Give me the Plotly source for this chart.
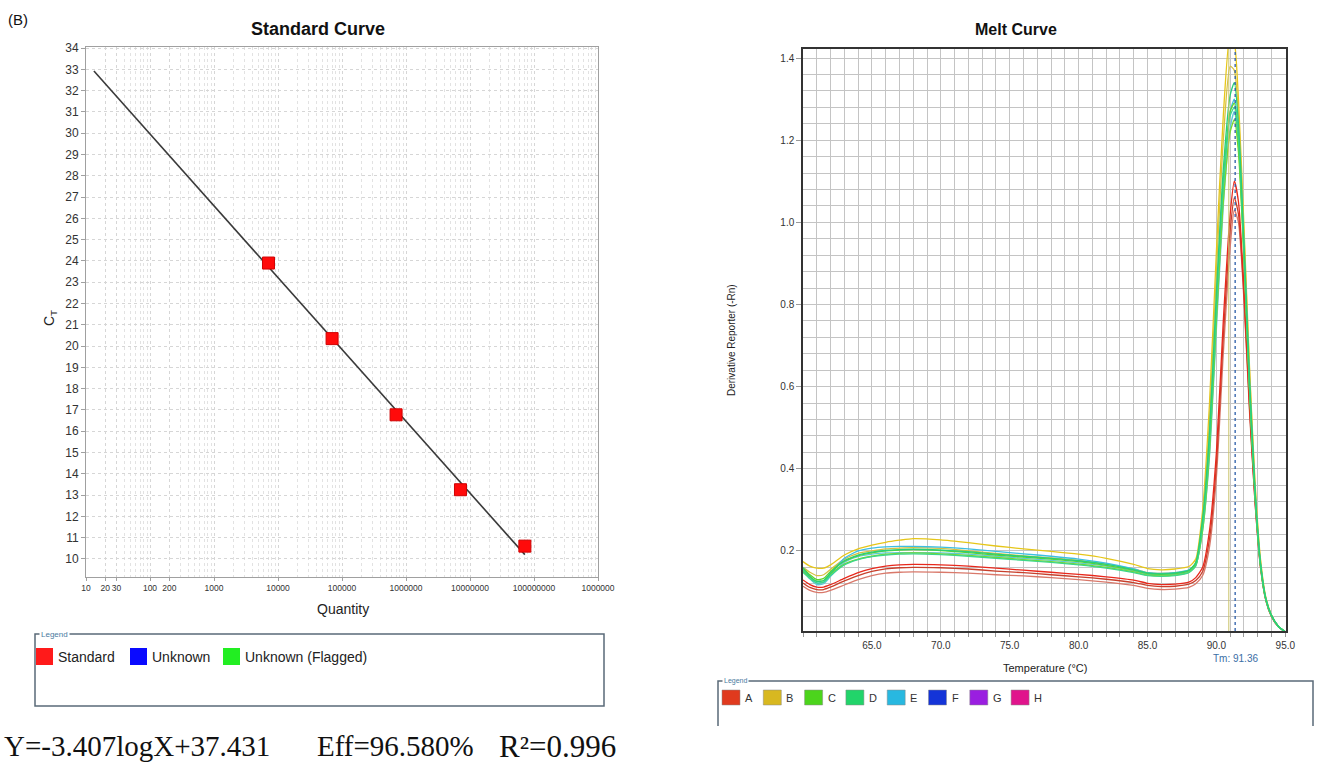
import plotly.graph_objects as go

W, H = 1323, 763

# ---------------- Standard curve data ----------------
std_quantity = [7.1e3, 7.0e4, 7.0e5, 7.1e6, 7.2e7]
std_ct = [23.9, 20.35, 16.77, 13.25, 10.6]
fit_quantity = [13.3, 7.2e7]
fit_ct = [32.92, 10.2]
x_tick_vals = [10, 20, 30, 100, 200, 1e3, 1e4, 1e5, 1e6, 1e7, 1e8, 1e9]
x_tick_text = ["10", "20", "30", "100", "200", "1000", "10000", "100000",
               "1000000", "10000000", "100000000", "1000000"]
std_legend_labels = ["Standard", "Unknown", "Unknown (Flagged)"]
std_legend_colors = ["#ff1a1a", "#0a0aff", "#22ee22"]
equation_parts = ["Y=-3.407logX+37.431", "Eff=96.580%", "R²=0.996"]

# ---------------- Melt curve data ----------------
temp = [60, 60.5, 61, 61.5, 62, 63, 64, 65, 66, 67, 68, 70, 72, 74, 76, 78, 80, 82, 84,
        85, 86, 87, 88, 88.5, 89, 89.5, 90, 90.5, 91, 91.3, 91.6, 92, 92.4, 92.8, 93.2,
        93.6, 94, 94.5, 95]

melt_curves = [
    ("A", "#d9786a", [0.114, 0.104, 0.099, 0.099, 0.104, 0.117, 0.130, 0.140, 0.146, 0.148, 0.149, 0.148, 0.146, 0.142, 0.139, 0.135, 0.130, 0.124, 0.116,
                      0.109, 0.106, 0.107, 0.111, 0.120, 0.140, 0.210, 0.380, 0.680, 0.940, 1.030, 1.000, 0.810, 0.540, 0.320, 0.160,
                      0.078, 0.040, 0.015, 0.003]),
    ("A", "#c8402c", [0.122, 0.111, 0.106, 0.106, 0.112, 0.127, 0.140, 0.150, 0.156, 0.159, 0.160, 0.159, 0.156, 0.151, 0.147, 0.142, 0.137, 0.131, 0.123,
                      0.116, 0.113, 0.114, 0.119, 0.128, 0.150, 0.230, 0.410, 0.720, 0.980, 1.060, 1.020, 0.820, 0.550, 0.320, 0.160,
                      0.078, 0.040, 0.015, 0.003]),
    ("A", "#e8281c", [0.129, 0.118, 0.112, 0.112, 0.118, 0.133, 0.147, 0.157, 0.163, 0.166, 0.167, 0.166, 0.163, 0.158, 0.153, 0.148, 0.143, 0.137, 0.129,
                      0.121, 0.118, 0.119, 0.124, 0.135, 0.160, 0.250, 0.440, 0.760, 1.020, 1.100, 1.050, 0.840, 0.560, 0.330, 0.165,
                      0.080, 0.042, 0.016, 0.003]),
    ("B", "#e6c619", [0.174, 0.163, 0.158, 0.158, 0.166, 0.190, 0.205, 0.214, 0.221, 0.226, 0.230, 0.227, 0.220, 0.212, 0.205, 0.199, 0.192, 0.182, 0.167,
                      0.157, 0.154, 0.156, 0.162, 0.180, 0.300, 0.560, 0.930, 1.260, 1.460, 1.440, 1.300, 0.990, 0.650, 0.370, 0.180,
                      0.085, 0.044, 0.016, 0.003]),
    ("B", "#d6c040", [0.160, 0.148, 0.140, 0.142, 0.155, 0.180, 0.194, 0.200, 0.205, 0.207, 0.208, 0.206, 0.200, 0.194, 0.188, 0.183, 0.177, 0.168, 0.156,
                      0.147, 0.145, 0.147, 0.153, 0.170, 0.280, 0.520, 0.880, 1.200, 1.380, 1.370, 1.260, 0.970, 0.640, 0.360, 0.175,
                      0.083, 0.043, 0.016, 0.003]),
    ("E", "#3cbfe2", [0.160, 0.138, 0.122, 0.124, 0.145, 0.182, 0.200, 0.207, 0.210, 0.211, 0.211, 0.209, 0.205, 0.199, 0.193, 0.187, 0.180, 0.170, 0.156,
                      0.147, 0.145, 0.147, 0.154, 0.170, 0.260, 0.450, 0.770, 1.070, 1.270, 1.300, 1.220, 0.940, 0.610, 0.345, 0.168,
                      0.081, 0.042, 0.016, 0.003]),
    ("E", "#5ec8d8", [0.152, 0.132, 0.118, 0.120, 0.138, 0.172, 0.186, 0.192, 0.195, 0.196, 0.196, 0.195, 0.192, 0.187, 0.182, 0.177, 0.171, 0.163, 0.151,
                      0.143, 0.141, 0.143, 0.150, 0.166, 0.250, 0.430, 0.740, 1.040, 1.230, 1.270, 1.200, 0.930, 0.600, 0.340, 0.166,
                      0.080, 0.042, 0.016, 0.003]),
    ("C", "#7ad82a", [0.150, 0.136, 0.126, 0.128, 0.144, 0.168, 0.180, 0.187, 0.192, 0.194, 0.195, 0.193, 0.189, 0.184, 0.179, 0.174, 0.168, 0.160, 0.149,
                      0.141, 0.139, 0.141, 0.148, 0.165, 0.250, 0.440, 0.760, 1.050, 1.220, 1.250, 1.170, 0.910, 0.590, 0.335, 0.163,
                      0.079, 0.041, 0.016, 0.003]),
    ("C", "#5fd42a", [0.158, 0.142, 0.130, 0.133, 0.150, 0.175, 0.188, 0.195, 0.200, 0.202, 0.203, 0.201, 0.196, 0.190, 0.185, 0.180, 0.174, 0.165, 0.153,
                      0.145, 0.143, 0.145, 0.152, 0.170, 0.270, 0.470, 0.800, 1.100, 1.270, 1.290, 1.190, 0.920, 0.600, 0.340, 0.165,
                      0.080, 0.042, 0.016, 0.003]),
    ("D", "#3dd68a", [0.148, 0.133, 0.122, 0.124, 0.140, 0.166, 0.179, 0.186, 0.190, 0.192, 0.193, 0.191, 0.187, 0.182, 0.177, 0.172, 0.166, 0.158, 0.147,
                      0.140, 0.138, 0.140, 0.147, 0.163, 0.260, 0.460, 0.790, 1.090, 1.260, 1.280, 1.200, 0.930, 0.600, 0.340, 0.165,
                      0.080, 0.042, 0.016, 0.003]),
    ("D", "#28cf78", [0.155, 0.138, 0.126, 0.128, 0.146, 0.176, 0.190, 0.197, 0.201, 0.203, 0.204, 0.202, 0.198, 0.192, 0.187, 0.182, 0.176, 0.167, 0.154,
                      0.146, 0.144, 0.146, 0.153, 0.172, 0.280, 0.490, 0.830, 1.130, 1.310, 1.340, 1.240, 0.950, 0.620, 0.350, 0.170,
                      0.082, 0.043, 0.016, 0.003]),
]
tm_value = 91.36
tm_b_value = 90.9
melt_legend_labels = ["A", "B", "C", "D", "E", "F", "G", "H"]
melt_legend_colors = ["#e03a1e", "#d8b820", "#4cd41c", "#22d46a", "#28b8e0", "#1434d8", "#9a1ee0", "#e0148c"]
melt_y_ticks = [0.2, 0.4, 0.6, 0.8, 1.0, 1.2, 1.4]
melt_x_ticks = [65, 70, 75, 80, 85, 90, 95]


def px(x):
    return x / W


def py(y):
    return 1 - y / H


fig = go.Figure()

# Standard curve traces
fig.add_trace(go.Scatter(x=fit_quantity, y=fit_ct, mode="lines",
                         line=dict(color="#3a3a3a", width=1.6),
                         xaxis="x", yaxis="y", showlegend=False, hoverinfo="skip"))
fig.add_trace(go.Scatter(x=std_quantity, y=std_ct, mode="markers",
                         marker=dict(symbol="square", size=12, color="#ff0a0a",
                                     line=dict(color="#d00000", width=1)),
                         xaxis="x", yaxis="y", showlegend=False))

# Melt curve traces
for name, color, vals in melt_curves:
    fig.add_trace(go.Scatter(x=temp, y=vals, mode="lines", name=name,
                             line=dict(color=color, width=1.3, shape="spline", smoothing=0.6),
                             xaxis="x2", yaxis="y2", showlegend=False))

shapes = []
annotations = []

# Tm lines
shapes.append(dict(type="line", xref="x2", yref="y2 domain", x0=tm_b_value, x1=tm_b_value, y0=0, y1=1,
                   line=dict(color="#c9c26a", width=1)))
shapes.append(dict(type="line", xref="x2", yref="y2 domain", x0=tm_value, x1=tm_value, y0=0, y1=1,
                   line=dict(color="#2a5ca8", width=1.3, dash="dot")))

# Left legend box
shapes.append(dict(type="rect", xref="paper", yref="paper", x0=px(35), x1=px(604), y0=py(706), y1=py(634),
                   line=dict(color="#5a6a78", width=1.5)))
annotations.append(dict(xref="paper", yref="paper", x=px(39), y=py(634), text="Legend", showarrow=False,
                        xanchor="left", yanchor="middle", bgcolor="white",
                        font=dict(size=8, color="#4a7aa0", family="Arial")))
left_item_x = [36, 130, 223]
for lx, lab, col in zip(left_item_x, std_legend_labels, std_legend_colors):
    shapes.append(dict(type="rect", xref="paper", yref="paper", x0=px(lx), x1=px(lx + 17),
                       y0=py(665), y1=py(648), fillcolor=col, line=dict(width=0)))
    annotations.append(dict(xref="paper", yref="paper", x=px(lx + 20), y=py(657), text=lab, showarrow=False,
                            xanchor="left", yanchor="middle",
                            font=dict(size=14, color="#222", family="Arial")))

# Right legend box (bottom edge cropped)
shapes.append(dict(type="path", xref="paper", yref="paper",
                   path=f"M {px(718)},{py(726)} L {px(718)},{py(681)} L {px(1313)},{py(681)} L {px(1313)},{py(726)}",
                   line=dict(color="#5a6a78", width=1.5)))
annotations.append(dict(xref="paper", yref="paper", x=px(722), y=py(681), text="Legend", showarrow=False,
                        xanchor="left", yanchor="middle", bgcolor="white",
                        font=dict(size=7, color="#4a7aa0", family="Arial")))
for i, (lab, col) in enumerate(zip(melt_legend_labels, melt_legend_colors)):
    x0 = 722 + i * 41.3
    shapes.append(dict(type="rect", xref="paper", yref="paper", x0=px(x0), x1=px(x0 + 18),
                       y0=py(705), y1=py(690), fillcolor=col, line=dict(color="#888", width=0.5)))
    annotations.append(dict(xref="paper", yref="paper", x=px(x0 + 21), y=py(697.5), text=lab, showarrow=False,
                            xanchor="left", yanchor="middle",
                            font=dict(size=11, color="#333", family="Arial")))

# Text annotations
annotations += [
    dict(xref="paper", yref="paper", x=px(6), y=py(19), text="(B)", showarrow=False,
         xanchor="left", yanchor="middle", font=dict(size=15, color="#111", family="Arial")),
    dict(xref="paper", yref="paper", x=px(318), y=py(29), text="<b>Standard Curve</b>", showarrow=False,
         xanchor="center", yanchor="middle", font=dict(size=18, color="#111", family="Arial")),
    dict(xref="paper", yref="paper", x=px(1016), y=py(29), text="<b>Melt Curve</b>", showarrow=False,
         xanchor="center", yanchor="middle", font=dict(size=16, color="#111", family="Arial")),
    dict(xref="paper", yref="paper", x=px(343), y=py(609), text="Quantity", showarrow=False,
         xanchor="center", yanchor="middle", font=dict(size=14, color="#222", family="Arial")),
    dict(xref="paper", yref="paper", x=px(50), y=py(318), text="C<sub>T</sub>", showarrow=False,
         textangle=-90, xanchor="center", yanchor="middle", font=dict(size=14, color="#222", family="Arial")),
    dict(xref="paper", yref="paper", x=px(731), y=py(340), text="Derivative Reporter (-Rn)", showarrow=False,
         textangle=-90, xanchor="center", yanchor="middle", font=dict(size=10, color="#222", family="Arial")),
    dict(xref="paper", yref="paper", x=px(1045), y=py(668), text="Temperature (°C)", showarrow=False,
         xanchor="center", yanchor="middle", font=dict(size=11, color="#222", family="Arial")),
    dict(xref="paper", yref="paper", x=px(1235), y=py(658), text=f"Tm: {tm_value}", showarrow=False,
         xanchor="center", yanchor="middle", font=dict(size=10, color="#3a6ea5", family="Arial")),
]
for part, ex, fs in zip(equation_parts, [2, 315, 497], [29, 29, 31]):
    annotations.append(dict(xref="paper", yref="paper", x=px(ex), y=py(746), text=part, showarrow=False,
                            xanchor="left", yanchor="middle",
                            font=dict(size=fs, color="#111", family="Liberation Serif")))

fig.update_layout(
    width=W, height=H, autosize=False,
    margin=dict(l=0, r=0, t=0, b=0, pad=0, autoexpand=False),
    paper_bgcolor="white", plot_bgcolor="white",
    showlegend=False,
    shapes=shapes,
    annotations=annotations,
    xaxis=dict(
        type="log", domain=[px(86), px(598)], range=[1, 9], anchor="y", automargin=False,
        tickmode="array", tickvals=x_tick_vals, ticktext=x_tick_text, tickangle=0,
        tickfont=dict(size=8.5, color="#333", family="Arial"),
        showgrid=True, gridcolor="#d6d6d6", griddash="dot", gridwidth=1,
        minor=dict(dtick="D1", showgrid=True, gridcolor="#e2e2e2", griddash="dot", gridwidth=1),
        showline=True, linecolor="#a0a0a0", linewidth=1, mirror=True,
        ticks="outside", ticklen=3, tickcolor="#a0a0a0", zeroline=False,
    ),
    yaxis=dict(
        domain=[py(577), py(47)], range=[9.15, 34.05], anchor="x", automargin=False,
        tickmode="linear", tick0=10, dtick=1,
        tickfont=dict(size=12, color="#333", family="Arial"),
        showgrid=True, gridcolor="#d6d6d6", griddash="dot", gridwidth=1,
        showline=True, linecolor="#a0a0a0", linewidth=1, mirror=True,
        ticks="outside", ticklen=4, tickcolor="#a0a0a0", zeroline=False,
    ),
    xaxis2=dict(
        domain=[px(803), px(1286)], range=[60, 95.05], anchor="y2", automargin=False,
        tickmode="array", tickvals=melt_x_ticks, tickformat=".1f",
        tickfont=dict(size=10, color="#333", family="Arial"),
        showgrid=True, gridcolor="#c4c4c4", gridwidth=1,
        minor=dict(dtick=1, tick0=60, showgrid=True, gridcolor="#c4c4c4", gridwidth=1,
                   ticks="outside", ticklen=4, tickcolor="#999"),
        showline=True, linecolor="#333", linewidth=1.5, mirror=True,
        ticks="outside", ticklen=4, tickcolor="#999", zeroline=False,
    ),
    yaxis2=dict(
        domain=[py(631), py(49)], range=[0.005, 1.422], anchor="x2", automargin=False,
        tickmode="array", tickvals=melt_y_ticks, tickformat=".1f",
        tickfont=dict(size=10, color="#333", family="Arial"),
        showgrid=True, gridcolor="#c4c4c4", gridwidth=1,
        minor=dict(dtick=0.04, tick0=0, showgrid=True, gridcolor="#c4c4c4", gridwidth=1),
        showline=True, linecolor="#333", linewidth=1.5, mirror=True,
        ticks="outside", ticklen=5, tickcolor="#999", zeroline=False,
    ),
)

post = (
    "document.documentElement.style.margin='0';"
    "document.body.style.margin='0';document.body.style.padding='0';"
    "document.documentElement.style.overflow='hidden';document.body.style.overflow='hidden';"
)

fig.write_html("out.html", config={"displayModeBar": False}, post_script=post)
